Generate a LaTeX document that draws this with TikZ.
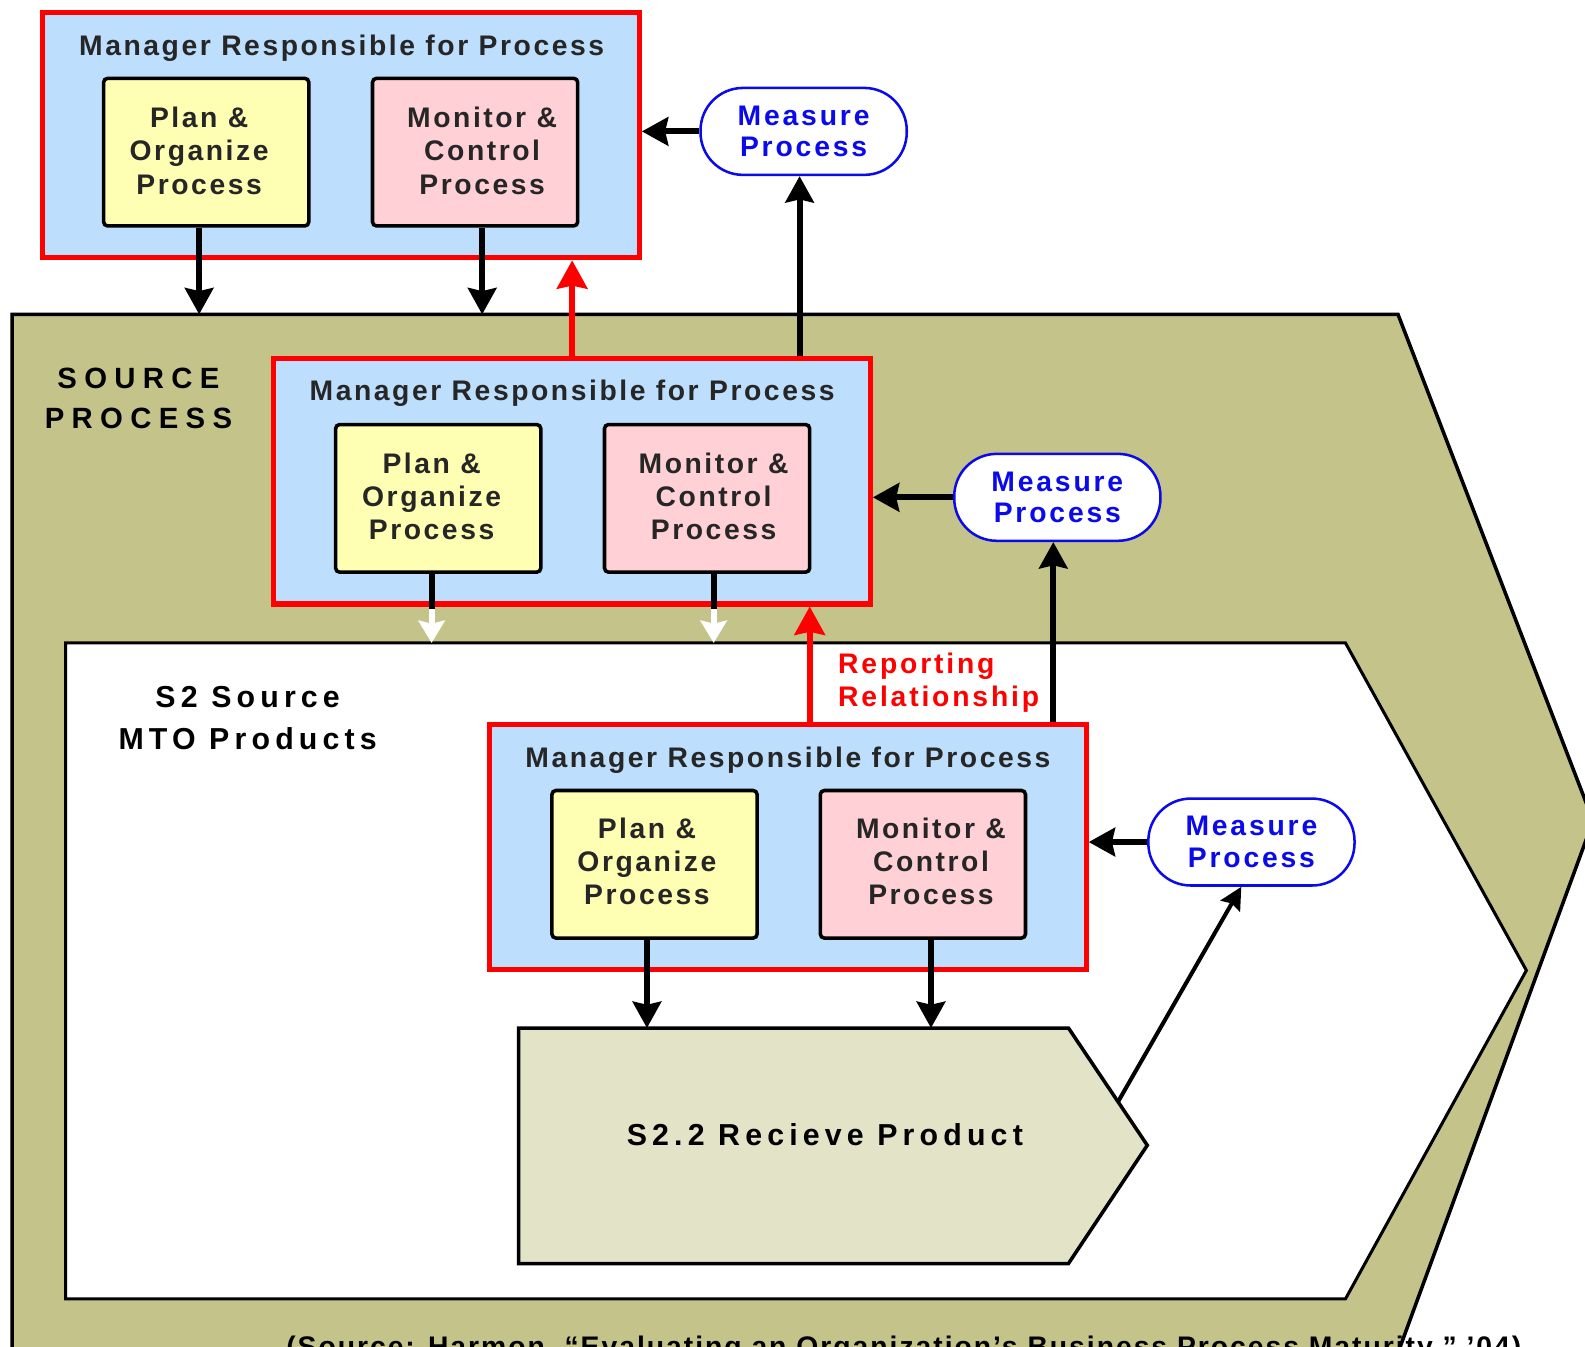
\documentclass[tikz,border=0pt]{standalone}
\usepackage{fontspec}
\setmainfont{Liberation Sans}
\newfontfamily\fmed{Liberation Sans}[LetterSpace=9]
\newfontfamily\fsp{Liberation Sans}[LetterSpace=10]
\newfontfamily\fcite{Liberation Sans}[LetterSpace=7]
\newfontfamily\fwide{Liberation Sans}[LetterSpace=25]
\newfontfamily\fmidsp{Liberation Sans}[LetterSpace=17]
\usetikzlibrary{arrows.meta}
\definecolor{srcfill}{RGB}{196,196,138}
\definecolor{mgrfill}{RGB}{189,222,252}
\definecolor{planfill}{RGB}{255,255,179}
\definecolor{monfill}{RGB}{255,209,214}
\definecolor{recvfill}{RGB}{227,227,199}
\definecolor{measblue}{RGB}{10,10,235}
\tikzset{
  mgrbox/.style={draw=red, line width=5pt, fill=mgrfill, minimum width=590pt, minimum height=243pt, inner sep=0pt},
  subbox/.style={draw=black, line width=3.5pt, rounded corners=4pt, minimum width=203pt, minimum height=146pt, inner sep=0pt},
  planbox/.style={subbox, fill=planfill},
  monbox/.style={subbox, fill=monfill},
  boxtext/.style={font=\fmed\bfseries\fontsize{28}{33}\selectfont, text=black!85, align=center, inner sep=0pt},
  mgrtitle/.style={font=\fmed\bfseries\fontsize{28}{33}\selectfont, text=black!85, inner sep=0pt},
  measbox/.style={draw=measblue, line width=2.5pt, fill=white, rounded corners=42pt, minimum width=204pt, minimum height=86pt, inner sep=0pt, align=center, text=measblue, font=\fsp\bfseries\fontsize{28}{31.5}\selectfont},
  flow/.style={draw=black, line width=6pt, -{Stealth[length=26pt,width=28pt,inset=3pt]}},
  redflow/.style={draw=red, line width=6pt, -{Stealth[length=28pt,width=30pt,inset=3pt,fill=red]}},
  whiteflow/.style={draw=white, line width=6pt, -{Stealth[length=22pt,width=26pt,inset=3pt,fill=white]}},
  thinflow/.style={draw=black, line width=4pt, -{Stealth[length=22pt,width=22pt,inset=3pt]}},
  shapeline/.style={draw=black, line width=3.5pt, line join=miter},
  srcfont/.style={font=\fwide\bfseries\fontsize{29}{40}\selectfont, align=center, inner sep=0pt},
  s2font/.style={font=\fmidsp\bfseries\fontsize{30}{41}\selectfont, align=center, inner sep=0pt},
  recvfont/.style={font=\fmidsp\bfseries\fontsize{30}{36}\selectfont, inner sep=0pt},
  repfont/.style={font=\fsp\bfseries\fontsize{28}{33}\selectfont, text=red, align=left, inner sep=0pt},
  citefont/.style={font=\fcite\bfseries\fontsize{28}{33}\selectfont, inner sep=0pt}
}
\begin{document}
\begin{tikzpicture}[x=1pt,y=-1pt]
\useasboundingbox (0,0) rectangle (1568,1332);
\fill[white] (0,0) rectangle (1568,1332);
% outer SOURCE PROCESS shape
\fill[srcfill] (12,311) -- (1383,311) -- (1576,812) -- (1375,1360) -- (12,1360) -- cycle;
\node[citefont, anchor=base west] (cite) at (283,1342) {(Source: Harmon, “Evaluating an Organization’s Business Process Maturity,” ’04)};
\draw[shapeline] (12,1360) -- (12,311) -- (1383,311) -- (1576,812) -- (1375,1360);
% inner S2 shape
\draw[shapeline, line width=3pt, fill=white] (65,636) -- (1331,636) -- (1510,960) -- (1331,1285) -- (65,1285) -- cycle;
% S2.2 shape
\draw[shapeline, fill=recvfill] (513,1017) -- (1057,1017) -- (1135,1133) -- (1057,1250) -- (513,1250) -- cycle;
\node[recvfont] (recv) at (816,1122) {S2.2 Recieve Product};
\coordinate (recvEdge) at (1106,1090);
\coordinate (r1) at (640,1017);
\coordinate (r2) at (921,1017);
% labels
\node[srcfont] (srclbl) at (137,394) {SOURCE\\PROCESS};
\node[s2font] (s2lbl) at (245,710.5) {S2 Source\\MTO Products};
% coordinates on shape edges
\coordinate (s1) at (197,311);
\coordinate (s2) at (477,311);
\coordinate (w1) at (427,636);
\coordinate (w2) at (706,636);
% manager boxes
\node[mgrbox] (mgr1) at (337.5,133.5) {};
\node[mgrbox] (mgr2) at (566,476) {};
\node[mgrbox] (mgr3) at (779.5,838) {};
\node[mgrtitle] (t1) at (338,47.5) {Manager Responsible for Process};
\node[mgrtitle] (t2) at (566,389.5) {Manager Responsible for Process};
\node[mgrtitle] (t3) at (779.5,752) {Manager Responsible for Process};
\node[planbox] (plan1) at (204,150.5) {};
\node[monbox] (mon1) at (470,150.5) {};
\node[planbox] (plan2) at (433.5,493) {};
\node[monbox] (mon2) at (699.5,493) {};
\node[planbox] (plan3) at (647.5,855) {};
\node[monbox] (mon3) at (913,855) {};
\node[boxtext] (plan1t) at (197,149) {Plan \&\\Organize\\Process};
\node[boxtext] (mon1t) at (477,149) {Monitor \&\\Control\\Process};
\node[boxtext] (plan2t) at (427,491) {Plan \&\\Organize\\Process};
\node[boxtext] (mon2t) at (706,491) {Monitor \&\\Control\\Process};
\node[boxtext] (plan3t) at (640,852) {Plan \&\\Organize\\Process};
\node[boxtext] (mon3t) at (921,852) {Monitor \&\\Control\\Process};
% measure nodes
\node[measbox] (meas1) at (795,130) {Measure\\Process};
\node[measbox] (meas2) at (1046,492) {Measure\\Process};
\node[measbox] (meas3) at (1238,833) {Measure\\Process};
% arrows top
\draw[flow] (plan1t |- plan1.south) -- (s1);
\draw[flow] (mon1t |- mon1.south) -- (s2);
\draw[redflow] (mgr2.north) -- (mgr2.north |- mgr1.south);
\draw[flow] (meas1.west) -- (meas1.west -| mgr1.east);
\draw[flow] ([xshift=-4pt]meas1.south |- mgr2.north) -- ([xshift=-4pt]meas1.south);
% arrows middle
\draw[draw=black, line width=6pt] (plan2t |- plan2.south) -- ([yshift=-2.5pt]plan2t |- mgr2.south);
\draw[draw=black, line width=6pt] (mon2t |- mon2.south) -- ([yshift=-2.5pt]mon2t |- mgr2.south);
\draw[whiteflow] ([yshift=-2.5pt]plan2t |- mgr2.south) -- (w1);
\draw[whiteflow] ([yshift=-2.5pt]mon2t |- mgr2.south) -- (w2);
\draw[flow] (meas2.west) -- (meas2.west -| mgr2.east);
\draw[flow] ([xshift=-4pt]meas2.south |- mgr3.north) -- ([xshift=-4pt]meas2.south);
\draw[redflow] ([xshift=21.5pt]mgr3.north) -- ([xshift=21.5pt]mgr3.north |- mgr2.south);
\node[repfont, anchor=west] (rep) at (829,675.5) {Reporting\\Relationship};
% arrows bottom
\draw[flow] (meas3.west) -- (meas3.west -| mgr3.east);
\draw[flow] (plan3t |- plan3.south) -- (r1);
\draw[flow] (mon3t |- mon3.south) -- (r2);
\draw[thinflow] (recvEdge) -- ([xshift=-10pt]meas3.south);
\end{tikzpicture}
\end{document}
